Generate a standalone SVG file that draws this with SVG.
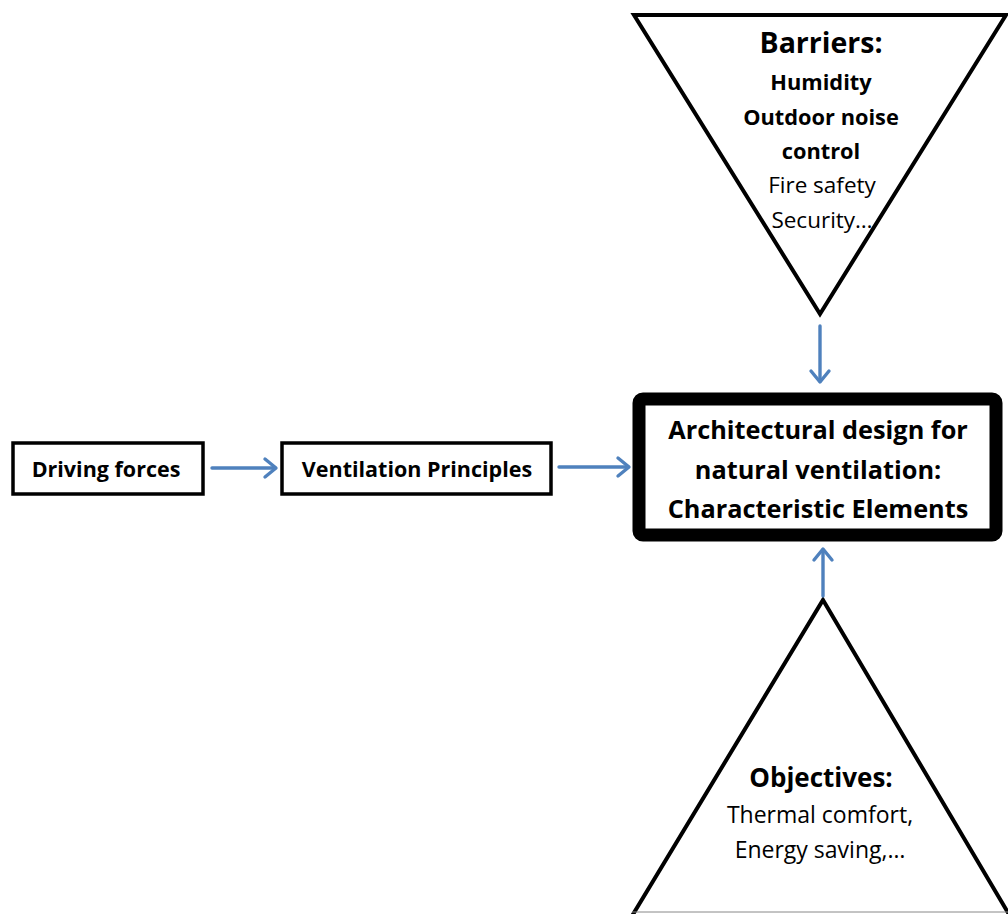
<svg xmlns="http://www.w3.org/2000/svg" width="1008" height="914" viewBox="0 0 1008 914">
<defs>
<style>
.box{fill:#fff;stroke:#000;stroke-width:3.5}
.tri{fill:#fff;stroke:#000;stroke-width:4;stroke-linejoin:miter}
.conn{fill:none;stroke:#4F81BD;stroke-width:3.4;stroke-linecap:round}
.head{fill:none;stroke:#4F81BD;stroke-width:3.4;stroke-linecap:round;stroke-linejoin:round}
text{font-family:"Open Sans","Noto Sans","Liberation Sans",sans-serif;fill:#000;text-anchor:middle}
.b{font-weight:bold}
</style>
</defs>
<rect width="1008" height="914" fill="#fff"/>
<g id="barriers">
<polygon class="tri" points="634,15 1006,15 820,314"/>
<text class="b" x="821" y="53" font-size="28.5">Barriers:</text>
<text class="b" x="821" y="90" font-size="21.8">Humidity</text>
<text class="b" x="821" y="125" font-size="21.8">Outdoor noise</text>
<text class="b" x="821" y="159" font-size="21.8">control</text>
<text x="822" y="193" font-size="22.5">Fire safety</text>
<text x="822" y="228" font-size="22.5">Security…</text>
</g>
<g id="objectives">
<polygon class="tri" points="823,600 1010,916 632,916"/>
<line x1="632" y1="912" x2="1008" y2="912" stroke="#888" stroke-width="1"/>
<text class="b" x="821" y="787" font-size="26">Objectives:</text>
<text x="820" y="823" font-size="23">Thermal comfort,</text>
<text x="820" y="858" font-size="23">Energy saving,…</text>
</g>
<g id="driving-forces">
<rect class="box" x="13" y="443" width="190" height="51"/>
<text class="b" x="106" y="477" font-size="21.5">Driving forces</text>
</g>
<g id="ventilation-principles">
<rect class="box" x="282" y="443" width="269" height="51"/>
<text class="b" x="417" y="477" font-size="21.5">Ventilation Principles</text>
</g>
<g id="architectural-design">
<rect x="639" y="399" width="357" height="136" rx="4" fill="#fff" stroke="#000" stroke-width="13"/>
<text class="b" x="818" y="439" font-size="25.3">Architectural design for</text>
<text class="b" x="818" y="479" font-size="25.3">natural ventilation:</text>
<text class="b" x="818" y="518" font-size="25.3">Characteristic Elements</text>
</g>
<g id="connectors">
<line class="conn" x1="212" y1="468" x2="275" y2="468"/>
<polyline class="head" points="265,459 276,468 265,477"/>
<line class="conn" x1="559" y1="467" x2="628" y2="467"/>
<polyline class="head" points="618,458 629,467 618,476"/>
<line class="conn" x1="820" y1="326" x2="820" y2="381"/>
<polyline class="head" points="811,371 820,382 829,371"/>
<line class="conn" x1="823" y1="596" x2="823" y2="550"/>
<polyline class="head" points="814,560 823,549 832,560"/>
</g>
</svg>
